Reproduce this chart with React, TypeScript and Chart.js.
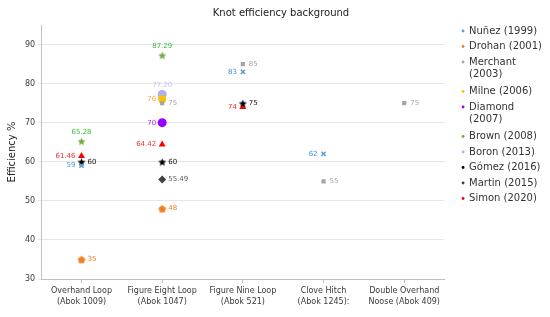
import React, { useEffect, useRef } from "react";
import { Chart, registerables } from "chart.js";

Chart.register(...registerables);

const FONT = "'DejaVu Sans', Verdana, sans-serif";

const categories = [
  ["Overhand Loop", "(Abok 1009)"],
  ["Figure Eight Loop", "(Abok 1047)"],
  ["Figure Nine Loop", "(Abok 521)"],
  ["Clove Hitch", "(Abok 1245):"],
  ["Double Overhand", "Noose (Abok 409)"],
];

const yTicks = [30, 40, 50, 60, 70, 80, 90];
const yMin = 30;
const yMax = 95;

const nunez = [59, null, 83, 62, null];
const drohan = [35, 48, null, null, null];
const merchant = [null, 75, 85, 55, 75];
const milne = [null, 76, null, null, null];
const diamond = [null, 70, null, null, null];
const brown = [65.28, 87.29, null, null, null];
const boron = [null, 77.2, null, null, null];
const gomez = [60, 60, 75, null, null];
const martin = [null, 55.49, null, null, null];
const simon = [61.46, 64.42, 74, null, null];

function makePolygonStar(color: string, r: number, points: number, inner: number) {
  const size = Math.ceil(r * 2) + 2;
  const c = document.createElement("canvas");
  c.width = size;
  c.height = size;
  const ctx = c.getContext("2d")!;
  ctx.translate(size / 2, size / 2 + (points === 5 && inner === 1 ? 0.5 : 0.6));
  ctx.beginPath();
  const n = inner === 1 ? points : points * 2;
  for (let i = 0; i < n; i++) {
    const rad = inner === 1 ? r : i % 2 === 0 ? r : r * inner;
    const a = -Math.PI / 2 + (i * 2 * Math.PI) / n;
    ctx.lineTo(Math.cos(a) * rad, Math.sin(a) * rad);
  }
  ctx.closePath();
  ctx.fillStyle = color;
  ctx.fill();
  return c;
}

const labelPlugin = {
  id: "pointLabels",
  afterDatasetsDraw(chart: any) {
    const ctx = chart.ctx;
    ctx.save();
    ctx.font = `7px ${FONT}`;
    ctx.textBaseline = "middle";
    chart.data.datasets.forEach((ds: any, di: number) => {
      const meta = chart.getDatasetMeta(di);
      meta.data.forEach((el: any, i: number) => {
        const v = ds.data[i];
        if (v == null) return;
        const txt = ds.decimals ? Number(v).toFixed(ds.decimals) : String(v);
        ctx.fillStyle = ds.labelColor;
        if (ds.labelPos === "right") {
          ctx.textAlign = "left";
          ctx.fillText(txt, el.x + 6, el.y);
        } else if (ds.labelPos === "left") {
          ctx.textAlign = "right";
          ctx.fillText(txt, el.x - 6, el.y);
        } else {
          ctx.textAlign = "center";
          ctx.fillText(txt, el.x, el.y - 9);
        }
      });
    });
    ctx.restore();
  },
};

const shiftPlugin = {
  id: "shiftBoxes",
  afterLayout(chart: any) {
    const lg = chart.legend;
    if (lg) {
      lg.left += 12;
      lg.right += 12;
      lg.top -= 4.5;
      lg.bottom -= 4.5;
    }
    const t = chart.titleBlock;
    if (t) {
      t.left += 16;
    }
  },
};

export default function App() {
  const ref = useRef<HTMLCanvasElement | null>(null);

  useEffect(() => {
    document.body.style.margin = "0";
    const star = (c: string) => makePolygonStar(c, 4.2, 5, 0.45);
    const pent = (c: string) => makePolygonStar(c, 4, 5, 1);

    const datasets: any[] = [
      { label: "Nuñez (1999)", legend: "Nuñez (1999)", data: nunez, color: "#5b9bd5", pointStyle: "crossRot", radius: 3, labelPos: "left", labelColor: "#4a8fd8" },
      { label: "Drohan (2001)", legend: "Drohan (2001)", data: drohan, color: "#f57e20", pointStyle: pent("#f57e20"), radius: 4, labelPos: "right", labelColor: "#f57e20" },
      { label: "Merchant (2003)", legend: ["Merchant", "(2003)"], data: merchant, color: "#a5a5a5", pointStyle: "rect", radius: 3, labelPos: "right", labelColor: "#a5a5a5" },
      { label: "Milne (2006)", legend: "Milne (2006)", data: milne, color: "#ffc000", pointStyle: "circle", radius: 4, labelPos: "left", labelColor: "#f5a95a" },
      { label: "Diamond (2007)", legend: ["Diamond", "(2007)"], data: diamond, color: "#9b00ff", pointStyle: "circle", radius: 4.5, labelPos: "left", labelColor: "#9b30f0" },
      { label: "Brown (2008)", legend: "Brown (2008)", data: brown, color: "#70ad47", pointStyle: star("#70ad47"), radius: 4, labelPos: "top", labelColor: "#2fbf3a" },
      { label: "Boron (2013)", legend: "Boron (2013)", data: boron, color: "#aab0f0", pointStyle: "circle", radius: 4.5, labelPos: "top", labelColor: "#c8c3ef" },
      { label: "Gómez (2016)", legend: "Gómez (2016)", data: gomez, color: "#000000", pointStyle: star("#000000"), radius: 4, labelPos: "right", labelColor: "#111111" },
      { label: "Martin (2015)", legend: "Martin (2015)", data: martin, color: "#404040", pointStyle: "rectRot", radius: 4, labelPos: "right", labelColor: "#5a5a5a", decimals: 2 },
      { label: "Simon (2020)", legend: "Simon (2020)", data: simon, color: "#ff0000", pointStyle: "triangle", radius: 4, labelPos: "left", labelColor: "#ee3030" },
    ].map((d) => ({
      ...d,
      showLine: false,
      backgroundColor: d.color,
      borderColor: d.color,
      pointBackgroundColor: d.color,
      pointBorderColor: d.color,
      pointRadius: d.radius,
      pointHoverRadius: d.radius,
      pointBorderWidth: d.pointStyle === "crossRot" ? 1.5 : 0,
      decimals: d.label === "Boron (2013)" ? 2 : d.decimals,
    }));

    const chart = new Chart(ref.current!, {
      type: "line",
      data: { labels: categories as any, datasets },
      plugins: [labelPlugin, shiftPlugin],
      options: {
        animation: false,
        responsive: false,
        maintainAspectRatio: false,
        layout: { padding: { left: 6, right: 10, top: 0, bottom: 8 } },
        plugins: {
          title: {
            display: true,
            text: "Knot efficiency background",
            color: "#222",
            font: { family: FONT, size: 10, weight: "normal" },
            padding: { top: 7, bottom: 6 },
          },
          tooltip: { enabled: false },
          legend: {
            position: "right",
            align: "start",
            fullSize: false,
            labels: {
              font: { family: FONT, size: 10, lineHeight: 1.2 },
              color: "#333",
              usePointStyle: true,
              boxWidth: 2,
              boxHeight: 2,
              padding: 5.5,
              generateLabels: (ch: any) =>
                ch.data.datasets.map((ds: any, i: number) => ({
                  text: ds.legend,
                  fillStyle: ds.color,
                  strokeStyle: ds.color,
                  lineWidth: 0,
                  pointStyle: "circle",
                  hidden: false,
                  datasetIndex: i,
                  fontColor: "#333",
                })),
            },
          },
        },
        scales: {
          x: {
            type: "category",
            offset: true,
            grid: { display: true, drawOnChartArea: false, offset: false, tickLength: 4, color: "#bfbfbf" },
            border: { color: "#bfbfbf" },
            ticks: {
              font: { family: FONT, size: 8, lineHeight: 1.375 },
              color: "#3a3a3a",
              maxRotation: 0,
              autoSkip: false,
              padding: 2,
            },
          },
          y: {
            min: yMin,
            max: yMax,
            afterBuildTicks: (s: any) => {
              s.ticks = yTicks.map((v) => ({ value: v }));
            },
            grid: { color: "#e6e6e6", tickLength: 3 },
            border: { color: "#bfbfbf" },
            ticks: { font: { family: FONT, size: 8 }, color: "#3a3a3a", padding: 3 },
            title: {
              display: true,
              text: "Efficiency %",
              color: "#222",
              font: { family: FONT, size: 10 },
              padding: { top: 0, bottom: 4 },
            },
          },
        },
      } as any,
    });
    return () => chart.destroy();
  }, []);

  return (
    <div style={{ width: 550, height: 317, position: "relative" }}>
      <canvas ref={ref} width={550} height={317} style={{ display: "block" }} />
    </div>
  );
}
